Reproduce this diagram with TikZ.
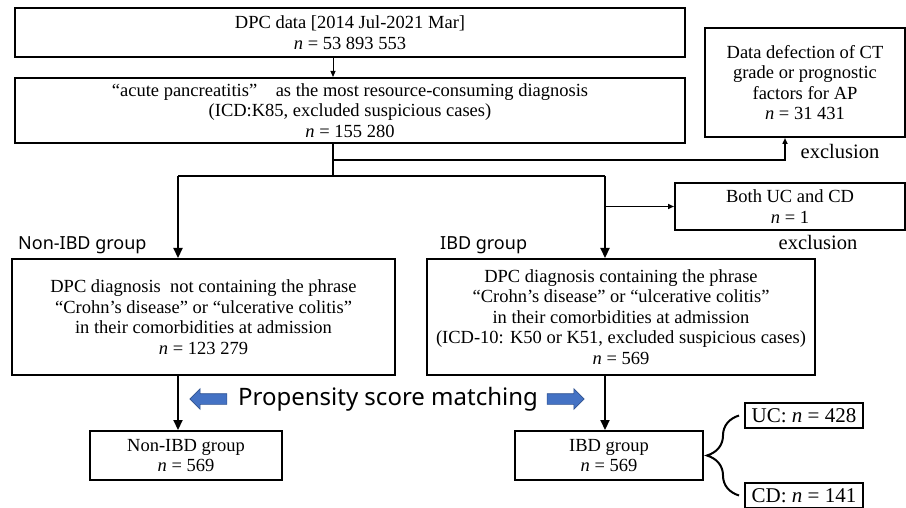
\documentclass[tikz,border=0pt]{standalone}
\usepackage{fontspec}
\setmainfont{Liberation Serif}
\newfontfamily\gothic{Noto Sans}
\usetikzlibrary{positioning,shapes.arrows,decorations.pathreplacing,arrows.meta}
\definecolor{psmblue}{HTML}{4472C4}
\definecolor{psmedge}{HTML}{2F528F}

\begin{document}
\begin{tikzpicture}[
	x=1pt, y=-1pt,
	box/.style={draw, line width=2pt, align=center, inner sep=0pt,
		font=\fontsize{18.5}{20.5}\selectfont},
	link/.style={line width=2.2pt},
	arr/.style={link, -{Triangle[length=10pt,width=9pt]}},
	thinarr/.style={line width=1pt, -{Triangle[length=6pt,width=5pt]}},
	tag/.style={font=\gothic\fontsize{18}{20}\selectfont, anchor=west, inner sep=0pt},
	note/.style={font=\fontsize{20.5}{22}\selectfont, inner sep=0pt},
	psm/.style={single arrow, draw=psmedge, fill=psmblue, line width=0.6pt,
		inner xsep=0pt, inner ysep=5pt, minimum height=37pt,
		single arrow head extend=5pt},
	bracket/.style={line width=2pt, decorate, decoration={brace, amplitude=32pt}}
]
	\useasboundingbox (0,0) rectangle (906,508);

	% boxes
	\node[box, minimum width=670, minimum height=49] (dpc) at (350,32.5)
		{DPC data [2014 Jul-2021 Mar]\\ \textit{n} = 53 893 553};
	\node[box, minimum width=670, minimum height=65] (ap) at (350,110.5)
		{“acute pancreatitis”\quad as the most resource-consuming diagnosis\\
		(ICD:K85, excluded suspicious cases)\\ \textit{n} = 155 280};
	\node[box, minimum width=200, minimum height=109] (defect) at (805,82.5)
		{Data defection of CT\\ grade or prognostic\\ factors for AP\\ \textit{n} = 31 431};
	\node[box, minimum width=230, minimum height=47] (both) at (790,206.5)
		{Both UC and CD\\ \textit{n} = 1};
	\node[box, minimum width=383, minimum height=116] (nonibd) at (203.5,317)
		{DPC diagnosis\ \ not containing the phrase\\
		“Crohn’s disease” or “ulcerative colitis”\\
		in their comorbidities at admission\\ \textit{n} = 123 279};
	\node[box, minimum width=388, minimum height=116] (ibd) at (621,317)
		{DPC diagnosis containing the phrase\\
		“Crohn’s disease” or “ulcerative colitis”\\
		in their comorbidities at admission\\
		(ICD-10: K50 or K51, excluded suspicious cases)\\ \textit{n} = 569};
	\node[box, minimum width=192, minimum height=49] (nonpsm) at (186,455.5)
		{Non-IBD group\\ \textit{n} = 569};
	\node[box, minimum width=188, minimum height=49] (ibdpsm) at (609,455.5)
		{IBD group\\ \textit{n} = 569};
	\node[box, minimum width=118, minimum height=25, font=\fontsize{21}{21}\selectfont]
		(uc) at (804,415.5) {UC: \textit{n} = 428};
	\node[box, minimum width=118, minimum height=25, font=\fontsize{21}{21}\selectfont]
		(cd) at (804,495.5) {CD: \textit{n} = 141};

	% labels
	\node[note] (exc1) at (840,151) {exclusion};
	\node[note] (exc2) at (818,242) {exclusion};
	\node[tag] (nonlab) at (18,245) {Non-IBD group};
	\node[tag] (ibdlab) at (440,245) {IBD group};
	\node[font=\gothic\fontsize{24}{24}\selectfont, inner sep=0pt] (psmtext) at (388,399)
		{Propensity score matching};
	\node[psm, shape border rotate=180] (psmL) at (211,399) {};
	\node[psm] (psmR) at (563,399) {};

	% connectors
	\coordinate (trunk) at (333,0);
	\coordinate (excrow) at (0,160);
	\coordinate (excup) at (785,0);
	\coordinate (colL) at (178,176);
	\coordinate (colR) at (605,176);

	\draw[thinarr] (dpc.south -| trunk) -- (ap.north -| trunk);
	\draw[link] (ap.south -| trunk) -- (trunk |- colL);
	\draw[link] (colL) -- (colR);
	\draw[thinarr, line width=1.8pt] (trunk |- excrow) -- (excup |- excrow) -- (excup |- defect.south);
	\draw[arr] (colL) -- (colL |- nonibd.north);
	\draw[arr] (colR) -- (colR |- ibd.north);
	\draw[thinarr, line width=1.8pt] (colR |- both.west) -- (both.west);
	\draw[arr] (colL |- nonibd.south) -- (colL |- nonpsm.north);
	\draw[arr] (colR |- ibd.south) -- (colR |- ibdpsm.north);
	\draw[bracket] ([xshift=-5pt]cd.west) -- ([xshift=-5pt]uc.west);
\end{tikzpicture}
\end{document}
